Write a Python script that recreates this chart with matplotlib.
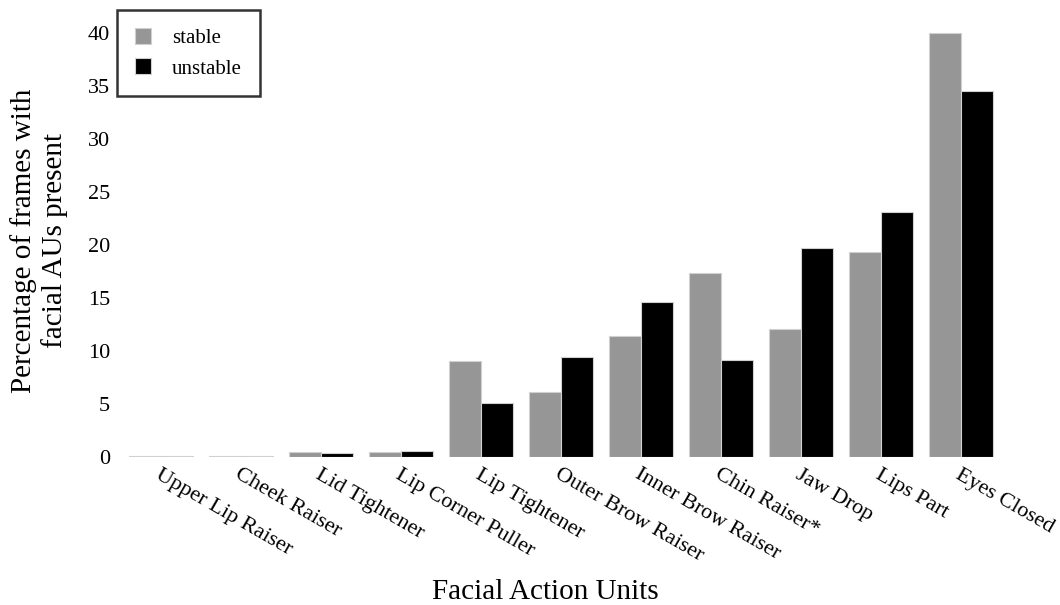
import matplotlib
matplotlib.use("Agg")
import matplotlib.pyplot as plt
import numpy as np

categories = ["Upper Lip Raiser", "Cheek Raiser", "Lid Tightener", "Lip Corner Puller",
              "Lip Tightener", "Outer Brow Raiser", "Inner Brow Raiser", "Chin Raiser*",
              "Jaw Drop", "Lips Part", "Eyes Closed"]
stable = [0.05, 0.1, 0.5, 0.45, 9.1, 6.1, 11.4, 17.4, 12.1, 19.4, 40.0]
unstable = [0.05, 0.08, 0.4, 0.55, 5.1, 9.4, 14.65, 9.15, 19.7, 23.1, 34.6]
yticks = [0, 5, 10, 15, 20, 25, 30, 35, 40]

plt.rcParams['font.family'] = ['Liberation Serif', 'DejaVu Serif']

fig = plt.figure(figsize=(10.6, 6.05), dpi=100)
ax = fig.add_axes([121/1060, (605-457)/605, 880/1060, 432/605])

x = np.arange(len(categories))
w = 0.4
ax.bar(x - w/2, stable, w, color="#969696", edgecolor="#d0d0d0", linewidth=0.8, label="stable")
ax.bar(x + w/2, unstable, w, color="#000000", edgecolor="#d0d0d0", linewidth=0.8, label="unstable")

ax.set_xlim(-0.5, len(categories) - 0.5)
ax.set_ylim(0, 40.8)
ax.set_yticks(yticks)
ax.set_yticklabels([str(t) for t in yticks], fontsize=16)
ax.set_xticks(x)
ax.set_xticklabels(categories, rotation=-30, ha="left", va="top", fontsize=16,
                   rotation_mode="anchor")
ax.tick_params(axis="both", length=0)
ax.tick_params(axis="y", pad=8)
ax.tick_params(axis="x", pad=6)
for s in ax.spines.values():
    s.set_visible(False)

ax.set_ylabel("Percentage of frames with\nfacial AUs present", fontsize=21, labelpad=14)
fig.text(545/1060, 1 - 592/605, "Facial Action Units", fontsize=21, ha="center", va="center")

leg = fig.legend(loc="upper left", bbox_to_anchor=(117/1060, 1 - 10/605), fontsize=15,
                 frameon=True, fancybox=False, edgecolor="black", handlelength=0.8,
                 handleheight=0.8, handletextpad=1.0, borderpad=0.85, labelspacing=0.5,
                 borderaxespad=0)
leg.get_frame().set_linewidth(1.8)

fig.savefig("out.png", dpi=100)
